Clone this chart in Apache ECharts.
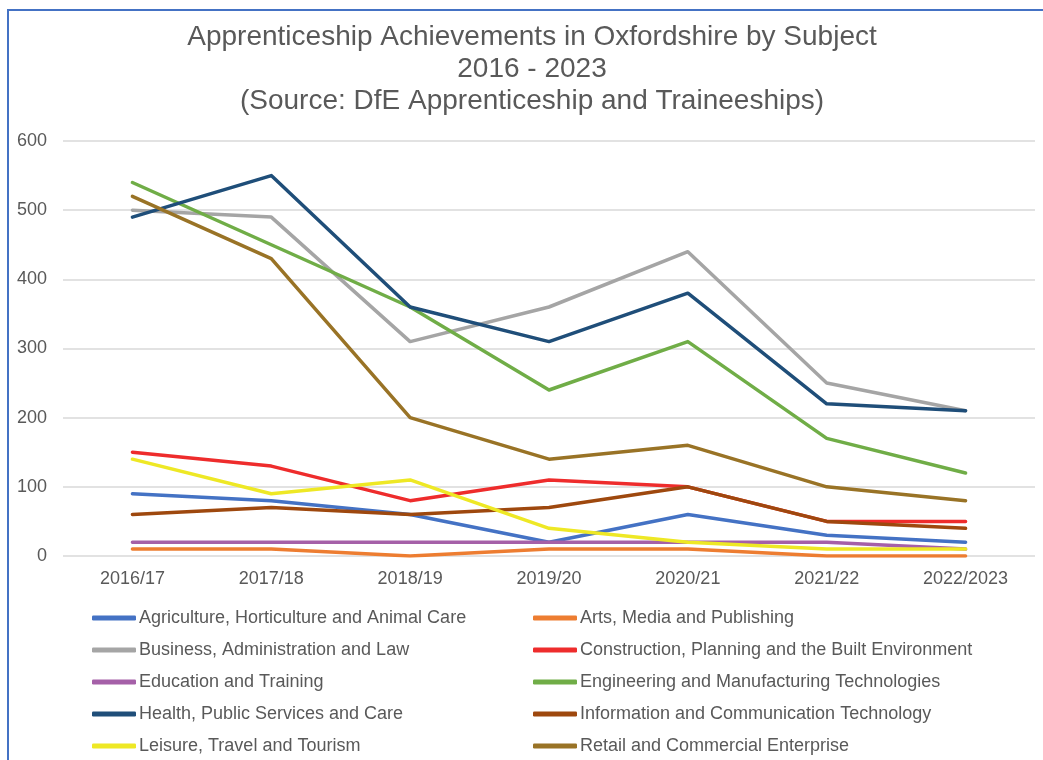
<!DOCTYPE html>
<html>
<head>
<meta charset="utf-8">
<script src="https://cdn.jsdelivr.net/npm/echarts@6/dist/echarts.min.js"></script>
<style>
  html, body { margin: 0; padding: 0; background: #fff; }
  #chart { width: 1043px; height: 760px; }
</style>
</head>
<body>
<div id="chart"></div>
<script>
const anos = ['2016/17', '2017/18', '2018/19', '2019/20', '2020/21', '2021/22', '2022/2023'];

const agricultura = [90, 80, 60, 20, 60, 30, 20];
const artes = [10, 10, 0, 10, 10, 0, 0];
const negocios = [500, 490, 310, 360, 440, 250, 210];
const construcao = [150, 130, 80, 110, 100, 50, 50];
const educacao = [20, 20, 20, 20, 20, 20, 10];
const engenharia = [540, 450, 360, 240, 310, 170, 120];
const saude = [490, 550, 360, 310, 380, 220, 210];
const informatica = [60, 70, 60, 70, 100, 50, 40];
const lazer = [140, 90, 110, 40, 20, 10, 10];
const varejo = [520, 430, 200, 140, 160, 100, 80];

const ticksY = [0, 100, 200, 300, 400, 500, 600];

const series = [
    { nome: 'Agriculture, Horticulture and Animal Care', dados: agricultura, cor: '#4472C4' },
    { nome: 'Arts, Media and Publishing', dados: artes, cor: '#ED7D31' },
    { nome: 'Business, Administration and Law', dados: negocios, cor: '#A5A5A5' },
    { nome: 'Construction, Planning and the Built Environment', dados: construcao, cor: '#EE2C2C' },
    { nome: 'Education and Training', dados: educacao, cor: '#A560A8' },
    { nome: 'Engineering and Manufacturing Technologies', dados: engenharia, cor: '#70AD47' },
    { nome: 'Health, Public Services and Care', dados: saude, cor: '#1F4E79' },
    { nome: 'Information and Communication Technology', dados: informatica, cor: '#9E480E' },
    { nome: 'Leisure, Travel and Tourism', dados: lazer, cor: '#EEE825' },
    { nome: 'Retail and Commercial Enterprise', dados: varejo, cor: '#997326' }
];

const fonte = '"Liberation Sans", Arial, sans-serif';
const cinza = '#595959';

function legenda(itens, esquerda) {
    return {
        orient: 'vertical',
        left: esquerda,
        top: 609,
        padding: 0,
        itemGap: 14,
        itemWidth: 44,
        itemHeight: 5,
        icon: 'roundRect',
        selectedMode: false,
        textStyle: { fontFamily: fonte, fontSize: 18, lineHeight: 18, color: cinza, padding: [0, 0, 0, -2] },
        data: itens.map(s => s.nome)
    };
}

let option = {
    animation: false,
    color: series.map(s => s.cor),
    title: {
        text: 'Apprenticeship Achievements in Oxfordshire by Subject\n2016 - 2023\n(Source: DfE Apprenticeship and Traineeships)',
        left: 527,
        textAlign: 'center',
        top: 16,
        textStyle: { fontFamily: fonte, fontSize: 28, fontWeight: 'normal', color: cinza, lineHeight: 32 }
    },
    legend: [
        legenda(series.filter((s, i) => i % 2 == 0), 92),
        legenda(series.filter((s, i) => i % 2 == 1), 533)
    ],
    grid: { left: 63, right: 8, top: 141, bottom: 204 },
    xAxis: {
        type: 'category',
        data: anos,
        boundaryGap: true,
        axisLine: { show: false },
        axisTick: { show: false },
        axisLabel: { fontFamily: fonte, fontSize: 18, color: cinza, margin: 14 }
    },
    yAxis: {
        type: 'value',
        min: 0,
        max: ticksY[ticksY.length - 1],
        interval: 100,
        axisLabel: { fontFamily: fonte, fontSize: 18, color: cinza, margin: 16 },
        splitLine: { lineStyle: { color: '#D9D9D9', width: 1.5 } }
    },
    series: series.map(s => ({
        name: s.nome,
        type: 'line',
        data: s.dados,
        symbol: 'none',
        lineStyle: { width: 3.5, color: s.cor, cap: 'round', join: 'round' },
        itemStyle: { color: s.cor }
    })),
    graphic: [{
        type: 'rect',
        shape: { x: 8, y: 10, width: 1100, height: 800 },
        style: { fill: 'none', stroke: '#4472C4', lineWidth: 2 },
        silent: true
    }]
};

const chart = echarts.init(document.getElementById('chart'));
chart.setOption(option);
</script>
</body>
</html>
